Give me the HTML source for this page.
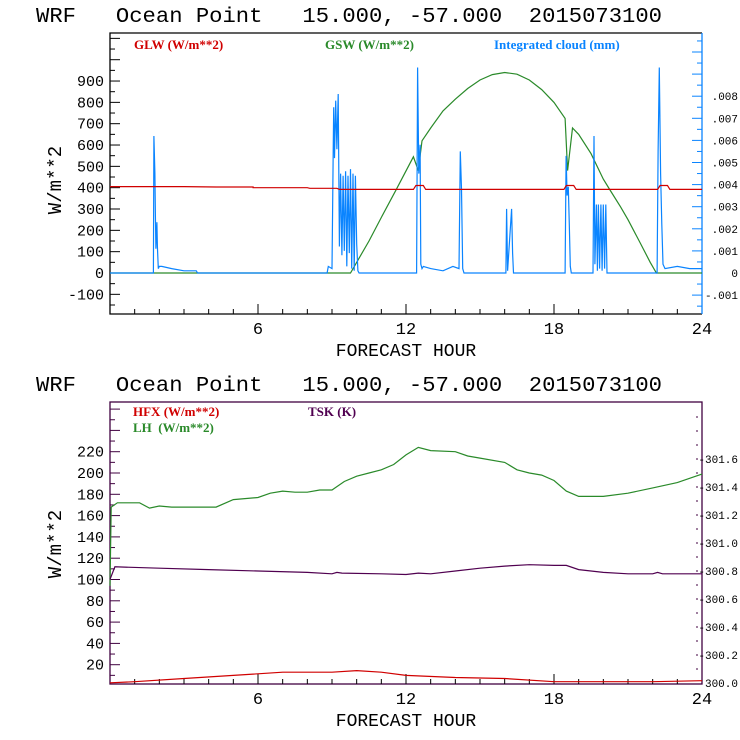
<!DOCTYPE html>
<html><head><meta charset="utf-8"><style>
body{margin:0;background:#fff;overflow:hidden;}
svg{display:block;}
text{font-family:"Liberation Mono",monospace;white-space:pre;}
.lg{font-family:"Liberation Serif",serif;font-weight:bold;font-size:13px;}
</style></head><body>
<svg id="c" width="740" height="740" viewBox="0 0 740 740"></svg>
<script>
// ---- data: top panel ----
const glwHours=[0,3,4.3,5.8,5.8,8,8.1,9.2,9.3,9.4,12.3,12.4,12.7,12.8,18.4,18.5,18.8,18.9,22.2,22.3,22.6,22.7,24];
const glwVals=[405,405,403,403,400,400,397,397,392,392,392,410,410,392,392,410,410,392,392,410,410,392,392];
const gswHours=[0,9.75,10.5,11.0,11.6,12.3,12.5,12.65,13,13.5,14,14.5,15,15.5,16,16.5,17,17.5,18,18.45,18.55,18.75,19,19.5,20,20.27,20.7,21,21.5,21.9,22.15,24];
const gswVals=[0,0,150,260,390,545,480,620,680,760,815,865,905,930,940,932,905,860,800,725,480,680,650,560,440,389,310,250,140,50,0,0];
const cloudHours=[0,1.76,1.78,1.82,1.84,1.86,1.9,1.92,1.96,2.0,2.03,2.1,2.5,3.0,3.5,3.55,8.8,8.85,9.0,9.05,9.07,9.1,9.15,9.2,9.25,9.3,9.35,9.4,9.45,9.5,9.55,9.6,9.65,9.7,9.75,9.8,9.85,9.9,9.95,10.0,10.05,10.1,12.43,12.47,12.52,12.57,12.6,12.65,12.7,13.0,13.5,13.9,14.15,14.2,14.25,14.3,14.35,16.05,16.08,16.12,16.28,16.32,16.36,18.45,18.49,18.53,18.58,18.62,18.66,18.7,19.58,19.62,19.66,19.72,19.76,19.8,19.85,19.9,19.95,20.0,20.05,20.1,20.15,22.18,22.22,22.27,22.32,22.37,22.42,22.5,23,23.5,24];
const cloudVals=[0,0,0.0062,0.0045,0.0026,0.0011,0.0023,0.0012,0.0002,0.0003,0.0003,0.0003,0.0002,0.0001,0.0001,0,0,0.0003,0.0002,0.0055,0.0075,0.0052,0.0078,0.0056,0.0081,0.0012,0.0045,0.0008,0.0044,0.001,0.0046,0.0003,0.0044,0.0009,0.0047,0.0002,0.0045,0.0001,0.0044,0.0013,0.0001,0,0,0.0093,0.0045,0.0058,0.0004,0.0002,0.0003,0.0002,0.0001,0.0003,0.0002,0.0055,0.0038,0.0002,0,0,0.0029,0.0001,0.0029,0.0009,0,0,0.0053,0.0035,0.0039,0.0022,0.0003,0,0,0.0062,0.0004,0.0031,0.0001,0.0031,0.0002,0.0031,0.0001,0.0031,0.0002,0.0031,0,0,0.0055,0.0093,0.0045,0.0022,0.0004,0.0002,0.0003,0.0002,0.0002];
const topYTicks=[-100,0,100,200,300,400,500,600,700,800,900];
const cloudTicks=[-0.001,0,0.001,0.002,0.003,0.004,0.005,0.006,0.007,0.008];
const cloudTickLabels=["-.001","0",".001",".002",".003",".004",".005",".006",".007",".008"];
const xTicks=[6,12,18,24];
// ---- data: bottom panel ----
const lhHours=[0,0.05,0.3,1.2,1.6,2,2.5,4.3,5,6,6.5,7,7.5,8,8.5,9,9.5,10,10.5,11,11.5,12,12.5,13,14,14.5,15,16,16.5,17,17.5,18,18.5,19,19.5,20,21,22,23,24];
const lhVals=[94,168,172,172,167,169,168,168,175,177,181,183,182,182,184,184,192,197,200,203,208,217,224,221,220,216,214,210,203,200,198,193,183,178,178,178,181,186,191,199];
const hfxHours=[0,1,3,5,7,9,10,11,12,14,16,18,22,24];
const hfxVals=[3,4,7,10,13,13,14.5,13,10,8,7,4,4,5];
const tskHours=[0,0.2,2,4,6,8,9,9.2,9.4,11,12,12.5,13,14,15,16,17,18,18.5,19,19.5,20,21,22,22.2,22.4,24];
const tskVals=[300.74,300.83,300.82,300.81,300.80,300.79,300.78,300.79,300.785,300.78,300.775,300.785,300.78,300.80,300.82,300.835,300.845,300.84,300.84,300.81,300.80,300.79,300.78,300.78,300.79,300.78,300.78];
const botYTicks=[20,40,60,80,100,120,140,160,180,200,220];
const tskTicks=[300.0,300.2,300.4,300.6,300.8,301.0,301.2,301.4,301.6];
const tskTickLabels=["300.0","-300.2","-300.4","-300.6","-300.8","-301.0","-301.2","-301.4","-301.6"];

const NS="http://www.w3.org/2000/svg";
const svg=document.getElementById('c');
function mk(tag,attrs,parent){const e=document.createElementNS(NS,tag);for(const k in attrs)e.setAttribute(k,attrs[k]);(parent||svg).appendChild(e);return e;}
function txt(s,attrs,parent){const e=mk('text',attrs,parent);e.textContent=s;return e;}
const X0=110,X1=702;
const xs=h=>X0+h*(X1-X0)/24;
const yTop=v=>273-v*0.2133;
const yCloud=v=>273-v*22100;
const yBot=v=>686-v*1.065;
const yTsk=v=>683-(v-300)*140;
function line(hours,vals,ys,color,name){
  let d='';for(let i=0;i<hours.length;i++)d+=(i?'L':'M')+xs(hours[i]).toFixed(1)+' '+ys(vals[i]).toFixed(1);
  const p=mk('path',{d:d,fill:'none',stroke:color,'stroke-width':1.2});
  
  
}
const t1=txt('WRF   Ocean Point   15.000, -57.000  2015073100',{x:36,y:22,'font-size':21,textLength:626,lengthAdjust:'spacingAndGlyphs','xml:space':'preserve'});

const t2=txt('WRF   Ocean Point   15.000, -57.000  2015073100',{x:36,y:391,'font-size':21,textLength:626,lengthAdjust:'spacingAndGlyphs','xml:space':'preserve'});


// ---- TOP PANEL ----
const gT=mk('g',{});

mk('path',{d:`M${X1} 33 L${X0} 33 L${X0} 314 L${X1} 314`,fill:'none',stroke:'#000','stroke-width':1.3},gT);
mk('line',{x1:X1,y1:33,x2:X1,y2:314,stroke:'#0a84ff','stroke-width':1.3},gT);
for(let h=1;h<24;h++){const big=h%6==0;mk('line',{x1:xs(h),x2:xs(h),y1:314,y2:314-(big?10:5),stroke:'#000'},gT);}
for(let v=-150;v<=1200;v+=50){const y=yTop(v);if(y<34||y>313)continue;mk('line',{x1:X0,x2:X0+(v%100==0?10:5),y1:y,y2:y,stroke:'#000'},gT);}
topYTicks.forEach(v=>{const e=txt(String(v),{x:104,y:yTop(v)+5,'font-size':15,'text-anchor':'end'},gT);});
for(let k=-3;k<=22;k++){const v=k*0.0005;const y=yCloud(v);if(y<34||y>313)continue;mk('line',{x1:X1,x2:X1-(k%2==0?10:5),y1:y,y2:y,stroke:'#0a84ff'},gT);}
cloudTicks.forEach((v,i)=>{const e=txt(cloudTickLabels[i],{x:738,y:yCloud(v)+4,'font-size':11,'text-anchor':'end'},gT);});
xTicks.forEach(h=>{const e=txt(String(h),{x:xs(h),y:334,'font-size':17,'text-anchor':'middle'},gT);});
let e=txt('FORECAST HOUR',{x:406,y:356,'font-size':18,'text-anchor':'middle'},gT);
e=txt('W/m**2',{x:0,y:0,'font-size':19,'text-anchor':'middle',transform:'translate(61,180) rotate(-90)'},gT);
e=txt('GLW (W/m**2)',{x:134,y:49,class:'lg',fill:'#d00000'},gT);
e=txt('GSW (W/m**2)',{x:325,y:49,class:'lg',fill:'#2a8a2a'},gT);
e=txt('Integrated cloud (mm)',{x:494,y:49,class:'lg',fill:'#0a84ff'},gT);
line(gswHours,gswVals,yTop,'#2a8a2a','gsw-line');
line(cloudHours,cloudVals,yCloud,'#0a84ff','cloud-line');
line(glwHours,glwVals,yTop,'#d00000','glw-line');

// ---- BOTTOM PANEL ----
const gB=mk('g',{});

mk('rect',{x:X0,y:402,width:X1-X0,height:282,fill:'none',stroke:'#400040','stroke-width':1.3},gB);
for(let h=1;h<24;h++){const big=h%6==0;mk('line',{x1:xs(h),x2:xs(h),y1:684,y2:684-(big?10:5),stroke:'#000'},gB);}
for(let v=10;v<=270;v+=10){const y=yBot(v);if(y<403)continue;mk('line',{x1:X0,x2:X0+(v%20==0?10:5),y1:y,y2:y,stroke:'#400040'},gB);}
for(let k=1;k<=19;k++){const y=yTsk(300+k*0.1);if(y<403)continue;mk('line',{x1:X1-6,x2:X1-4,y1:y,y2:y,stroke:'#400040'},gB);}
botYTicks.forEach(v=>{const e=txt(String(v),{x:104,y:yBot(v)+5,'font-size':15,'text-anchor':'end'},gB);});
tskTicks.forEach((v,i)=>{const e=txt(tskTickLabels[i],{x:738,y:yTsk(v)+4,'font-size':11,'text-anchor':'end'},gB);});
xTicks.forEach(h=>{const e=txt(String(h),{x:xs(h),y:704,'font-size':17,'text-anchor':'middle'},gB);});
e=txt('FORECAST HOUR',{x:406,y:726,'font-size':18,'text-anchor':'middle'},gB);
e=txt('W/m**2',{x:0,y:0,'font-size':19,'text-anchor':'middle',transform:'translate(61,544) rotate(-90)'},gB);
e=txt('HFX (W/m**2)',{x:133,y:416,class:'lg',fill:'#d00000'},gB);
e=txt('LH  (W/m**2)',{x:133,y:432,class:'lg',fill:'#2a8a2a','xml:space':'preserve'},gB);
e=txt('TSK (K)',{x:308,y:416,class:'lg',fill:'#500050'},gB);
line(lhHours,lhVals,yBot,'#2a8a2a','lh-line');
line(hfxHours,hfxVals,yBot,'#d00000','hfx-line');
line(tskHours,tskVals,yTsk,'#500050','tsk-line');
</script>
</body></html>
